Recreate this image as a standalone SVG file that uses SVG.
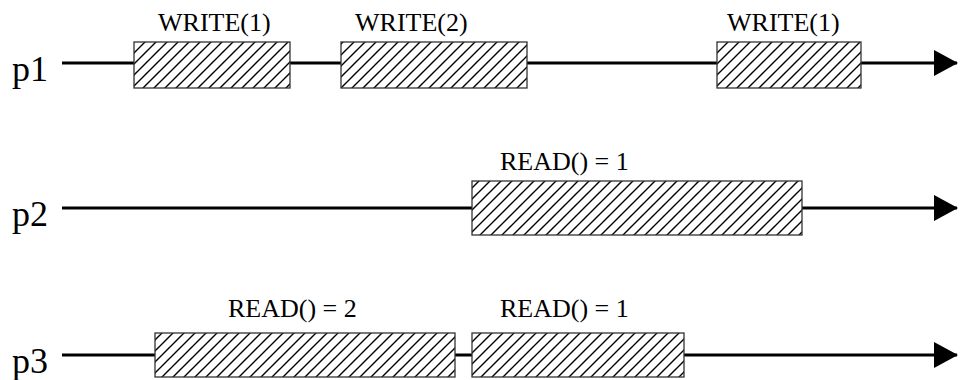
<svg xmlns="http://www.w3.org/2000/svg" width="960" height="380" viewBox="0 0 960 380">
<defs>
<pattern id="hatch" patternUnits="userSpaceOnUse" width="11" height="11">
<path d="M0,11 L11,0 M-2,2 L2,-2 M9,13 L13,9" stroke="#000" stroke-width="1.4" fill="none"/>
</pattern>
<marker id="arrow" markerUnits="userSpaceOnUse" markerWidth="26" markerHeight="28" refX="23" refY="13" orient="auto">
<path d="M0,0 L24,13 L0,26 Z" fill="#000"/>
</marker>
</defs>
<style>
.tl{stroke:#000;stroke-width:3;fill:none}
.bg{fill:#fff;stroke:none}
.op{fill:url(#hatch);stroke:#333;stroke-width:1.3}
.lbl{font-family:"Liberation Serif","Times New Roman",serif;font-size:26px;fill:#000}
.rl{font-family:"Liberation Serif","Times New Roman",serif;font-size:26px;fill:#000}
.pl{font-family:"Liberation Serif","Times New Roman",serif;font-size:36px;fill:#000}
</style>
<rect width="960" height="380" fill="#fff"/>
<g id="connectors">
<line class="tl" x1="62" y1="63" x2="957" y2="63" marker-end="url(#arrow)"/>
<line class="tl" x1="62" y1="208" x2="957" y2="208" marker-end="url(#arrow)"/>
<line class="tl" x1="62" y1="355" x2="957" y2="355" marker-end="url(#arrow)"/>
</g>
<g id="p1">
<text class="pl" x="12" y="81">p1</text>
</g>
<g id="p2">
<text class="pl" x="12" y="226">p2</text>
</g>
<g id="p3">
<text class="pl" x="12" y="373">p3</text>
</g>
<g id="w1a">
<rect class="bg" x="134" y="42" width="156" height="46"/>
<rect class="op" x="134" y="42" width="156" height="46"/>
<text class="lbl" x="158" y="31">WRITE(1)</text>
</g>
<g id="w2">
<rect class="bg" x="341" y="42" width="186" height="46"/>
<rect class="op" x="341" y="42" width="186" height="46"/>
<text class="lbl" x="355" y="31">WRITE(2)</text>
</g>
<g id="w1b">
<rect class="bg" x="717" y="42" width="144" height="46"/>
<rect class="op" x="717" y="42" width="144" height="46"/>
<text class="lbl" x="727" y="31">WRITE(1)</text>
</g>
<g id="r2a">
<rect class="bg" x="472" y="181" width="330" height="54"/>
<rect class="op" x="472" y="181" width="330" height="54"/>
<text class="rl" x="500" y="170">READ() = 1</text>
</g>
<g id="r3a">
<rect class="bg" x="155" y="333" width="300" height="44"/>
<rect class="op" x="155" y="333" width="300" height="44"/>
<text class="rl" x="228" y="317">READ() = 2</text>
</g>
<g id="r3b">
<rect class="bg" x="472" y="333" width="212" height="44"/>
<rect class="op" x="472" y="333" width="212" height="44"/>
<text class="rl" x="500" y="317">READ() = 1</text>
</g>
</svg>
